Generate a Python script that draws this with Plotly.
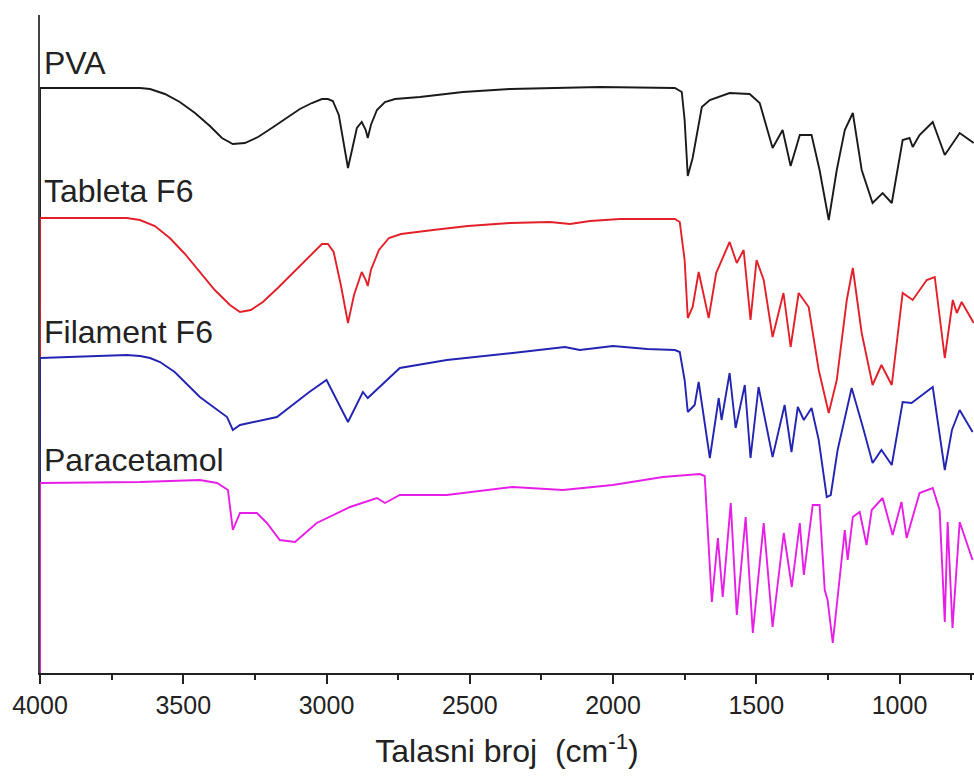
import plotly.graph_objects as go

# ---------------- data (wavenumber cm-1, transmittance in a.u., stacked) ----------------
pva_wn = [4000, 4000, 3651, 3616, 3564, 3512, 3459, 3407, 3365, 3327, 3285, 3239, 3191, 3138,
          3093, 3051, 3016, 2995, 2978, 2957, 2940, 2925, 2911, 2894, 2877, 2863, 2856, 2845,
          2824, 2796, 2761, 2674, 2524, 2360, 2046, 1784, 1760, 1750, 1739, 1722, 1690, 1662,
          1593, 1523, 1488, 1467, 1443, 1408, 1380, 1348, 1307, 1279, 1247, 1219, 1191, 1163,
          1132, 1094, 1059, 1027, 989, 965, 954, 930, 884, 842, 790, 741]
pva_t = [0, 585, 585, 584, 579, 571, 560, 547, 535, 529, 530, 536, 545, 555,
         564, 570, 574, 574, 572, 558, 528, 505, 523, 545, 551, 543, 535, 548,
         563, 571, 574, 576, 581, 584, 586, 585, 581, 553, 497, 515, 566, 573,
         580, 579, 570, 548, 525, 543, 507, 538, 538, 503, 453, 503, 543, 560,
         503, 470, 480, 470, 533, 535, 526, 538, 551, 518, 540, 530]

tab_wn = [4000, 4000, 3697, 3651, 3599, 3547, 3494, 3442, 3390, 3337, 3302, 3264, 3222, 3170,
          3117, 3065, 3016, 2995, 2975, 2950, 2925, 2904, 2877, 2863, 2856, 2845, 2817, 2782,
          2740, 2628, 2507, 2360, 2220, 2150, 2080, 1976, 1784, 1767, 1750, 1739, 1722, 1701,
          1666, 1640, 1631, 1593, 1568, 1544, 1520, 1499, 1474, 1443, 1405, 1380, 1352, 1317,
          1282, 1247, 1219, 1184, 1163, 1132, 1094, 1063, 1027, 989, 954, 905, 877, 842, 814,
          800, 783, 741]
tab_t = [0, 455, 455, 453, 447, 435, 419, 401, 383, 368, 361, 363, 371, 385,
         400, 415, 429, 429, 421, 388, 350, 378, 401, 393, 387, 403, 423, 435,
         439, 443, 447, 450, 451, 449, 452, 454, 454, 451, 413, 355, 366, 401,
         355, 400, 406, 431, 410, 423, 353, 413, 393, 336, 380, 326, 380, 366,
         303, 260, 293, 373, 405, 340, 288, 308, 288, 380, 373, 393, 396, 315, 373,
         360, 371, 350]

fil_wn = [4000, 4000, 3697, 3651, 3616, 3581, 3530, 3442, 3390, 3347, 3327, 3302, 3173, 3128,
          3060, 3000, 2925, 2873, 2856, 2744, 2580, 2350, 2168, 2116, 2000, 1881, 1784, 1767,
          1750, 1739, 1715, 1701, 1662, 1631, 1621, 1593, 1572, 1540, 1520, 1492, 1443, 1401,
          1377, 1355, 1334, 1307, 1282, 1254, 1240, 1216, 1167, 1128, 1094, 1063, 1027, 989,
          958, 884, 842, 817, 790, 745]
fil_t = [0, 315, 318, 317, 315, 311, 301, 276, 265, 256, 243, 248, 256, 266,
         281, 293, 251, 281, 275, 305, 313, 320, 326, 323, 327, 324, 323, 321,
         293, 261, 268, 291, 215, 275, 253, 300, 245, 288, 215, 286, 216, 268,
         221, 266, 253, 265, 233, 176, 178, 223, 285, 246, 210, 223, 208, 271,
         270, 286, 203, 243, 263, 241]

par_wn = [4000, 4000, 3651, 3442, 3382, 3344, 3327, 3302, 3243, 3208, 3163, 3110, 3034, 2918,
          2824, 2796, 2744, 2580, 2350, 2175, 2001, 1826, 1697, 1680, 1655, 1634, 1617, 1589,
          1568, 1537, 1512, 1474, 1443, 1404, 1376, 1348, 1334, 1303, 1279, 1261, 1251, 1233,
          1191, 1181, 1163, 1139, 1115, 1097, 1059, 1024, 993, 975, 930, 884, 860, 842, 832,
          815, 790, 745]
par_t = [0, 190, 191, 193, 190, 183, 143, 160, 160, 150, 133, 131, 150, 166,
         175, 170, 178, 178, 186, 183, 188, 196, 199, 197, 71, 135, 76, 170,
         58, 156, 40, 150, 46, 140, 86, 150, 98, 168, 168, 83, 73, 30,
         143, 113, 156, 161, 128, 163, 175, 138, 171, 135, 180, 185, 163, 51, 151,
         45, 151, 113]

series_names = ["PVA", "Tableta F6", "Filament F6", "Paracetamol"]
series_colors = ["#1a1a1a", "#E3202A", "#2424B2", "#E61EE6"]
label_levels = [610, 482, 341, 213]

x_ticks = [4000, 3500, 3000, 2500, 2000, 1500, 1000]
x_title = "Talasni broj\u00a0\u00a0(cm<sup>-1</sup>)"

FONT = "Liberation Sans, Arial, sans-serif"

# ---------------- figure ----------------
fig = go.Figure()
all_x = [pva_wn, tab_wn, fil_wn, par_wn]
all_y = [pva_t, tab_t, fil_t, par_t]
for name, col, xs, ys in zip(series_names, series_colors, all_x, all_y):
    fig.add_trace(go.Scatter(x=xs, y=ys, mode="lines", name=name,
                             line=dict(color=col, width=1.9),
                             showlegend=False))

for name, lvl in zip(series_names, label_levels):
    fig.add_annotation(x=4000, y=lvl, xref="x", yref="y", text=name, showarrow=False,
                       xanchor="left", yanchor="middle", xshift=2,
                       font=dict(family=FONT, size=32, color="#222"))

fig.update_layout(
    width=974, height=778,
    margin=dict(l=40, r=0, t=15, b=105),
    paper_bgcolor="white", plot_bgcolor="white",
    font=dict(family=FONT, color="#222"),
)
fig.update_xaxes(
    range=[4000, 740], tickvals=x_ticks, ticktext=[str(v) for v in x_ticks],
    showline=True, linecolor="#222", linewidth=1.5, mirror=False,
    ticks="outside", ticklen=9, tickwidth=1.5, tickcolor="#222",
    minor=dict(ticks="outside", ticklen=5, tickwidth=1.5, tickcolor="#222", dtick=250, tick0=0),
    showgrid=False, zeroline=False, layer="below traces",
    tickfont=dict(size=25, color="#222"),
    title=dict(text=x_title, font=dict(size=32, color="#222"), standoff=22),
)
fig.update_yaxes(
    range=[0, 658], showline=True, linecolor="#444", linewidth=1.5,
    showticklabels=False, ticks="", showgrid=False, zeroline=False, layer="below traces",
)

fig.write_html("out.html")
